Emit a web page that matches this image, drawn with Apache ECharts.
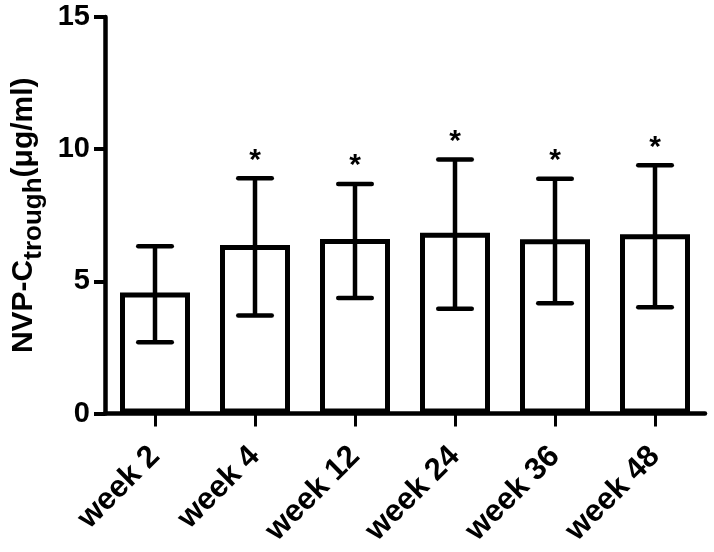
<!DOCTYPE html>
<html><head><meta charset="utf-8">
<script src="https://cdn.jsdelivr.net/npm/echarts@6/dist/echarts.min.js"></script>
<style>html,body{margin:0;padding:0;background:#fff}#c{width:714px;height:552px}</style>
</head><body><div id="c"></div>
<script>
const categories = ['week 2', 'week 4', 'week 12', 'week 24', 'week 36', 'week 48'];
const means = [4.58, 6.37, 6.60, 6.84, 6.59, 6.78];
const lower = [2.70, 3.71, 4.37, 3.96, 4.17, 4.02];
const upper = [6.33, 8.90, 8.68, 9.61, 8.88, 9.39];
const significance = ['', '*', '*', '*', '*', '*'];
const yMin = 0, yMax = 15, yStep = 5;

const FONT = '"Liberation Sans", Arial, sans-serif';
const chart = echarts.init(document.getElementById('c'), null, {renderer: 'canvas'});

const errData = categories.map((c, i) => [i, lower[i], upper[i]]);

chart.setOption({
  animation: false,
  backgroundColor: '#fff',
  grid: {left: 105, right: 9, top: 17, bottom: 138.5, containLabel: false, outerBoundsMode: 'none'},
  xAxis: {
    type: 'category',
    data: categories,
    boundaryGap: true,
    axisLine: {show: true, lineStyle: {color: '#000', width: 4.5}},
    axisTick: {show: true, alignWithLabel: true, length: 13, lineStyle: {color: '#000', width: 3}},
    axisLabel: {interval: 0, rotate: 45, margin: 38, color: '#000', fontSize: 31, fontWeight: 'bold', fontFamily: FONT},
    splitLine: {show: false}
  },
  yAxis: {
    type: 'value',
    min: yMin, max: yMax, interval: yStep,
    axisLine: {show: true, lineStyle: {color: '#000', width: 4.5}},
    axisTick: {show: true, length: 11, lineStyle: {color: '#000', width: 4}},
    axisLabel: {margin: 15, color: '#000', fontSize: 29, fontWeight: 'bold', fontFamily: FONT},
    splitLine: {show: false},
    name: '{m|NVP-C}{s|trough}{m|(μg/ml)}',
    nameLocation: 'middle',
    nameGap: 54,
    nameTextStyle: {
      color: '#000', fontFamily: FONT, fontWeight: 'bold',
      rich: {
        m: {fontSize: 30, fontWeight: 'bold', fontFamily: FONT, color: '#000'},
        s: {fontSize: 26, fontWeight: 'bold', fontFamily: FONT, color: '#000', padding: [21, 0, 0, 0]}
      }
    }
  },
  series: [
    {
      type: 'bar',
      data: means,
      barWidth: 70,
      itemStyle: {color: '#fff', borderColor: '#000', borderWidth: 5},
      z: 2
    },
    {
      type: 'custom',
      data: errData,
      encode: {x: 0, y: [1, 2]},
      z: 5,
      renderItem: function (params, api) {
        const i = api.value(0);
        const lo = api.coord([i, api.value(1)]);
        const hi = api.coord([i, api.value(2)]);
        const x = lo[0];
        const half = 16.75;
        const capStyle = {stroke: '#000', lineWidth: 4.5, lineCap: 'round'};
        const children = [
          {type: 'line', shape: {x1: x, y1: lo[1], x2: x, y2: hi[1]}, style: {stroke: '#000', lineWidth: 4.5}},
          {type: 'line', shape: {x1: x - half, y1: hi[1], x2: x + half, y2: hi[1]}, style: capStyle},
          {type: 'line', shape: {x1: x - half, y1: lo[1], x2: x + half, y2: lo[1]}, style: capStyle}
        ];
        const sig = significance[params.dataIndex];
        if (sig) {
          children.push({
            type: 'text', x: x, y: hi[1] - 18,
            style: {text: sig, fontSize: 30, fontWeight: 'bold', fontFamily: FONT, fill: '#000', align: 'center', verticalAlign: 'middle'}
          });
        }
        return {type: 'group', children: children};
      }
    }
  ]
});
</script>
</body></html>
